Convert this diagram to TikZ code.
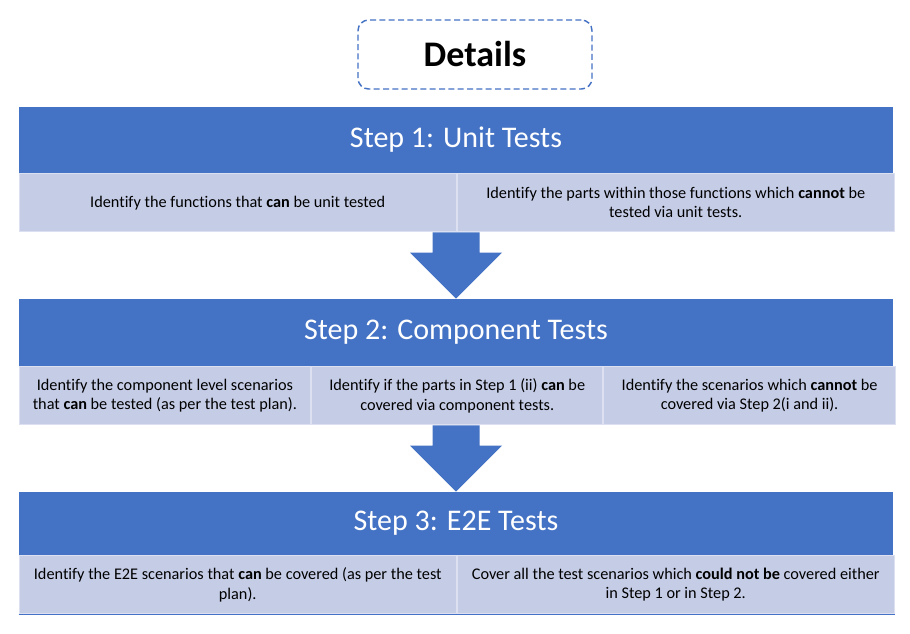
\documentclass[tikz,border=0pt]{standalone}
\usepackage{fontspec}
\setmainfont{Carlito}[Ligatures=NoCommon]
\usepackage{xcolor}
\usepackage{tikz}
\usetikzlibrary{positioning,calc}
\definecolor{stepblue}{HTML}{4472C4}
\definecolor{cellfill}{HTML}{C5CCE6}
\definecolor{cellline}{HTML}{DCE0F0}

\begin{document}
\begin{tikzpicture}[x=0.75pt, y=-0.75pt,
  head/.style={fill=stepblue, text=white, inner sep=0pt, minimum width=655.5pt, font=\fontsize{22.5}{27}\selectfont},
  cell/.style={fill=cellfill, draw=cellline, line width=0.75pt, inner sep=0pt, align=center, minimum height=43.5pt, font=\fontsize{12.2}{14.4}\selectfont},
  halfcell/.style={cell, minimum width=327.75pt},
  thirdcell/.style={cell, minimum width=218.5pt},
  blockarrow/.style={fill=stepblue}]
\useasboundingbox (0,0) rectangle (910,634);
\node[draw=stepblue, dashed, dash pattern=on 4.5pt off 2.5pt, line width=1.1pt, rounded corners=8pt, minimum width=175.5pt, minimum height=51.75pt, font=\fontsize{27}{32}\selectfont\bfseries] (details) at (475,54.5) {Details};
% step 1
\node[head, minimum height=49.5pt] (step1) at (456,140) {Step 1: Unit Tests};
\node[halfcell, below right=0pt and 0pt of step1.south west] (c11) {Identify the functions that \textbf{can} be unit tested};
\node[halfcell, right=0pt of c11] (c12) {Identify the parts within those functions which \textbf{cannot} be\\tested via unit tests.};
% step 2
\node[head, minimum height=50.25pt] (step2) at (456,332.5) {Step 2: Component Tests};
\node[thirdcell, below right=0pt and 0pt of step2.south west] (c21) {Identify the component level scenarios\\that \textbf{can} be tested (as per the test plan).};
\node[thirdcell, right=0pt of c21] (c22) {Identify if the parts in Step 1 (ii) \textbf{can} be\\covered via component tests.};
\node[thirdcell, right=0pt of c22] (c23) {Identify the scenarios which \textbf{cannot} be\\covered via Step 2(i and ii).};
% step 3
\node[head, minimum height=47.25pt] (step3) at (456,523.5) {Step 3: E2E Tests};
\node[halfcell, below right=0pt and 0pt of step3.south west] (c31) {Identify the E2E scenarios that \textbf{can} be covered (as per the test\\plan).};
\node[halfcell, right=0pt of c31] (c32) {Cover all the test scenarios which \textbf{could not be} covered either\\in Step 1 or in Step 2.};
\draw[stepblue, line width=1pt] (c31.south west) -- (c32.south east);
% arrows
\coordinate (a1) at (step2.north |- c11.south);
\fill[blockarrow] (step2.north) -- ++(-46,-46) -- ++(22.5,0) -- ($(a1)+(-23.5,0)$) -- ($(a1)+(23.5,0)$) -- ($(step2.north)+(23.5,-46)$) -- ++(22.5,0) -- cycle;
\coordinate (a2) at (step3.north |- c21.south);
\fill[blockarrow] (step3.north) -- ++(-46,-46) -- ++(22.5,0) -- ($(a2)+(-23.5,0)$) -- ($(a2)+(23.5,0)$) -- ($(step3.north)+(23.5,-46)$) -- ++(22.5,0) -- cycle;
\end{tikzpicture}
\end{document}
